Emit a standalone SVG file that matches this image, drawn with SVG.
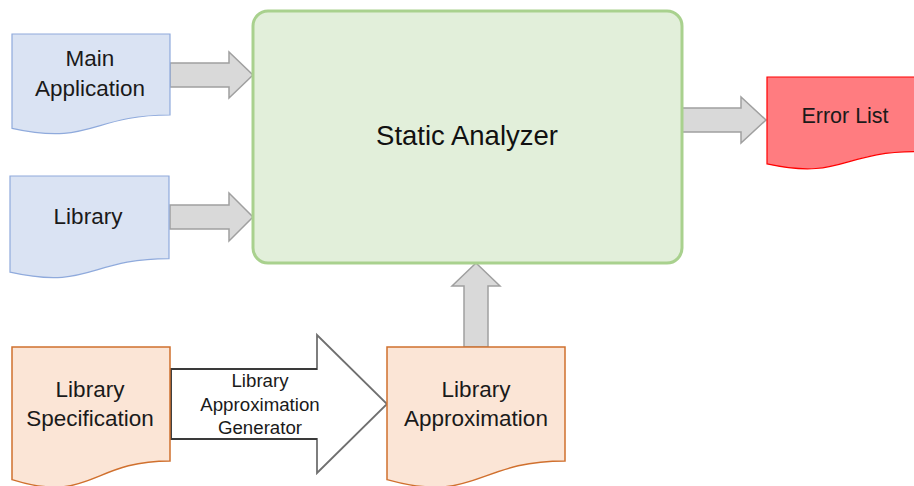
<svg xmlns="http://www.w3.org/2000/svg" width="914" height="486" viewBox="0 0 914 486">
  <style>
    .lbl { font-family: "Liberation Sans", Arial, sans-serif; font-size: 22.5px; fill: #1a1a1a; text-anchor: middle; }
    .small { font-family: "Liberation Sans", Arial, sans-serif; font-size: 18.7px; fill: #1a1a1a; text-anchor: middle; }
    .big { font-family: "Liberation Sans", Arial, sans-serif; font-size: 27.5px; fill: #111; text-anchor: middle; }
    .blue { fill: #dae3f3; stroke: #8faadc; stroke-width: 1.2; }
    .orange { fill: #fbe5d6; stroke: #d0702e; stroke-width: 1.5; }
    .red { fill: #ff7c80; stroke: #ff0000; stroke-width: 1.2; }
    .garrow { fill: #d9d9d9; stroke: #a0a0a0; stroke-width: 1.5; stroke-linejoin: miter; }
    .warrow { fill: #ffffff; stroke: #707070; stroke-width: 1.8; }
  </style>
  <rect width="914" height="486" fill="#ffffff"/>

  <g id="connectors">
    <path class="garrow" d="M170 63 H229 V52 L253 75 L229 98 V87 H170 Z"/>
    <path class="garrow" d="M170 205 H229 V193 L253 217 L229 241 V229 H170 Z"/>
    <path class="garrow" d="M682 108 H741 V97 L766 120 L741 143 V132 H682 Z"/>
    <path class="garrow" d="M464 347 V286 H452 L476 263 L500 286 H488 V347 Z"/>
    <g id="generator">
      <path class="warrow" d="M171 369 H317 V335 L387 404 L317 473 V439 H171 Z"/>
      <path d="M317 369 H171 V439 H317" fill="none" stroke="#3a3a3a" stroke-width="1.8"/>
      <text class="small" x="260" y="387">Library</text>
      <text class="small" x="260" y="411">Approximation</text>
      <text class="small" x="260" y="434">Generator</text>
    </g>
  </g>

  <g id="main-application">
    <path class="blue" d="M12 34 H170 V115 C91 115 91 145.9 12 128.3 Z"/>
    <text class="lbl" x="90" y="66">Main</text>
    <text class="lbl" x="90" y="96">Application</text>
  </g>

  <g id="library">
    <path class="blue" d="M10 176 H169 V258.6 C89.5 258.6 89.5 290.1 10 272.2 Z"/>
    <text class="lbl" x="88" y="224">Library</text>
  </g>

  <g id="static-analyzer">
    <rect x="253" y="11" width="429" height="252" rx="15" ry="15" fill="#e2efda" stroke="#a9d18e" stroke-width="3"/>
    <text class="big" x="467" y="145">Static Analyzer</text>
  </g>

  <g id="error-list">
    <path class="red" d="M767 77 H916 V151.6 C841.5 151.6 841.5 180 767 163.9 Z"/>
    <text class="lbl" x="845" y="123" style="font-size:21.5px">Error List</text>
  </g>

  <g id="library-specification">
    <path class="orange" d="M12 347 H170 V460.9 C91 460.9 91 504.3 12 479.6 Z"/>
    <text class="lbl" x="90" y="397">Library</text>
    <text class="lbl" x="90" y="426">Specification</text>
  </g>

  <g id="library-approximation">
    <path class="orange" d="M387 347 H565 V460.9 C476 460.9 476 504.3 387 479.6 Z"/>
    <text class="lbl" x="476" y="397">Library</text>
    <text class="lbl" x="476" y="426">Approximation</text>
  </g>
</svg>
